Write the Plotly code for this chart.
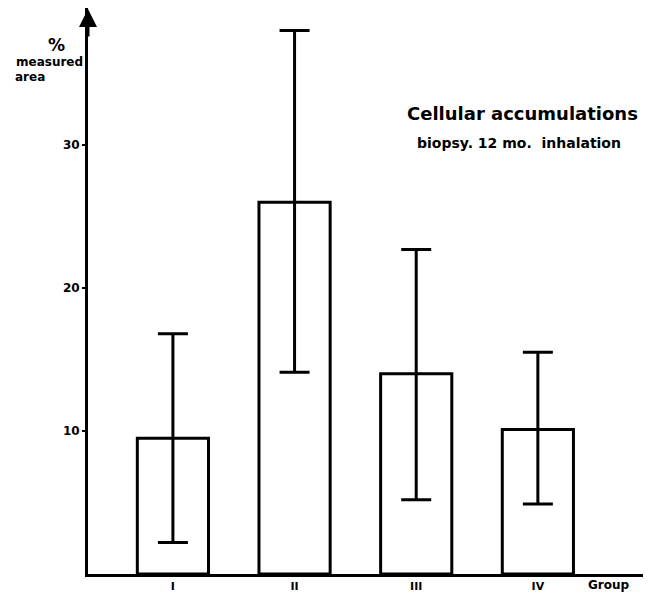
import plotly.graph_objects as go

groups = ["I", "II", "III", "IV"]
means = [9.5, 26.0, 14.0, 10.1]
err_high = [16.8, 38.0, 22.7, 15.5]
err_low = [2.2, 14.1, 5.2, 4.9]
ytick_vals = [10, 20, 30]
ytick_text = ["10", "20", "30"]

xpos = list(range(len(groups)))
err_plus = [h - m for h, m in zip(err_high, means)]
err_minus = [m - l for m, l in zip(means, err_low)]

FONT = "DejaVu Sans"

fig = go.Figure()
fig.add_trace(go.Bar(
    x=xpos, y=means, width=0.585,
    marker=dict(color="white", line=dict(color="black", width=3)),
    error_y=dict(type="data", symmetric=False, array=err_plus, arrayminus=err_minus,
                 color="black", thickness=3, width=15),
    showlegend=False,
))

fig.update_layout(
    width=643, height=586,
    margin=dict(l=80, r=0, t=0, b=20),
    paper_bgcolor="white", plot_bgcolor="white",
    font=dict(family=FONT, color="black"),
    xaxis=dict(range=[-0.698, 3.93], showgrid=False, zeroline=False,
               showline=True, linecolor="black", linewidth=3,
               tickvals=xpos, ticktext=groups, ticks="",
               tickfont=dict(family=FONT, size=11, weight="bold")),
    yaxis=dict(range=[0, 39.58], showgrid=False, zeroline=False,
               showline=True, linecolor="black", linewidth=3,
               tickvals=ytick_vals, ticktext=ytick_text, ticks="outside",
               ticklen=3, tickwidth=2, tickcolor="black",
               tickfont=dict(family=FONT, size=12, weight="bold")),
)

# axis arrowhead
fig.add_annotation(xref="paper", yref="paper", x=0, y=1.0, ax=0, ay=30,
                   showarrow=True, arrowhead=2, arrowsize=1.2, arrowwidth=3,
                   arrowcolor="black", text="")

fig.add_annotation(xref="paper", yref="paper", x=1.0, y=0, xanchor="right", yanchor="top",
                   xshift=-19, yshift=-2, text="Group", showarrow=False,
                   font=dict(family=FONT, size=12, weight="bold"))

fig.add_annotation(xref="paper", yref="paper", x=0, y=1, xanchor="center", yanchor="middle",
                   xshift=-32, yshift=-37, text="%", showarrow=False,
                   font=dict(family=FONT, size=17, weight="bold"))
fig.add_annotation(xref="paper", yref="paper", x=0, y=1, xanchor="left", yanchor="middle",
                   xshift=-74, yshift=-54, text="measured", showarrow=False,
                   font=dict(family=FONT, size=12, weight="bold"))
fig.add_annotation(xref="paper", yref="paper", x=0, y=1, xanchor="left", yanchor="middle",
                   xshift=-75, yshift=-69, text="area", showarrow=False,
                   font=dict(family=FONT, size=12, weight="bold"))

fig.add_annotation(xref="paper", yref="paper", x=0, y=1, xanchor="center", yanchor="middle",
                   xshift=434, yshift=-105, text="Cellular accumulations", showarrow=False,
                   font=dict(family=FONT, size=18, weight="bold"))
fig.add_annotation(xref="paper", yref="paper", x=0, y=1, xanchor="center", yanchor="middle",
                   xshift=431, yshift=-135, text="biopsy. 12 mo.&nbsp;&nbsp;inhalation", showarrow=False,
                   font=dict(family=FONT, size=14, weight="bold"))

fig.write_html("out.html")
